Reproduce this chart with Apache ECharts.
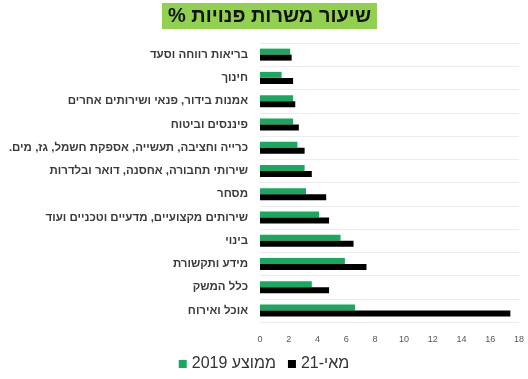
<!DOCTYPE html>
<html>
<head>
<meta charset="utf-8">
<script src="https://cdn.jsdelivr.net/npm/echarts@6/dist/echarts.min.js"></script>
<style>
  html, body { margin: 0; padding: 0; background: #ffffff; }
  #chart { width: 528px; height: 379px; }
</style>
</head>
<body>
<div id="chart"></div>
<script>
// Sectors, listed bottom to top along the category axis
// (a trailing RLM keeps final punctuation on the left of Hebrew text)
const categories = [
  'אוכל ואירוח',
  'כלל המשק',
  'מידע ותקשורת',
  'בינוי',
  'שירותים מקצועיים, מדעיים וטכניים ועוד',
  'מסחר',
  'שירותי תחבורה, אחסנה, דואר ובלדרות',
  'כרייה וחציבה, תעשייה, אספקת חשמל, גז, מים.\u200F',
  'פיננסים וביטוח',
  'אמנות בידור, פנאי ושירותים אחרים',
  'חינוך',
  'בריאות רווחה וסעד'
];

// Job vacancy rate (%), 2019 average
const avg2019 = [6.6, 3.6, 5.9, 5.6, 4.1, 3.2, 3.1, 2.6, 2.3, 2.3, 1.5, 2.1];
// Job vacancy rate (%), May 2021
const may21 = [17.4, 4.8, 7.4, 6.5, 4.8, 4.6, 3.6, 3.1, 2.7, 2.45, 2.3, 2.2];

const seriesNames = ['ממוצע 2019', 'מאי-21'];
const titleText = 'שיעור משרות פנויות %\u200F';
const xTicks = { min: 0, max: 18, interval: 2 };

const chart = echarts.init(document.getElementById('chart'), null, { renderer: 'canvas' });

chart.setOption({
  animation: false,
  backgroundColor: '#ffffff',
  title: {
    text: titleText,
    left: 162,
    top: 3,
    padding: [3, 6, 3, 6],
    backgroundColor: '#92d050',
    textStyle: {
      fontFamily: 'Liberation Sans',
      fontSize: 20,
      fontWeight: 'bold',
      color: '#111111'
    }
  },
  legend: {
    data: seriesNames,
    bottom: 2,
    left: 'center',
    itemWidth: 8,
    itemHeight: 8,
    itemGap: 12,
    icon: 'rect',
    textStyle: {
      fontFamily: 'Liberation Sans',
      fontSize: 16,
      color: '#333333'
    }
  },
  grid: {
    left: 260,
    right: 9,
    top: 43,
    bottom: 57,
    containLabel: false
  },
  xAxis: {
    type: 'value',
    min: xTicks.min,
    max: xTicks.max,
    interval: xTicks.interval,
    axisLine: { show: false },
    axisTick: { show: false },
    splitLine: { show: false },
    axisLabel: {
      margin: 13,
      fontFamily: 'Liberation Sans',
      fontSize: 9,
      color: '#555555'
    }
  },
  yAxis: {
    type: 'category',
    data: categories,
    axisLine: { show: false },
    axisTick: { show: false },
    splitLine: { show: true, lineStyle: { color: '#ececec', width: 1 } },
    axisLabel: {
      margin: 12,
      fontFamily: 'Liberation Sans',
      fontSize: 11.5,
      fontWeight: 'bold',
      color: '#3a3a3a'
    }
  },
  series: [
    {
      name: 'ממוצע 2019',
      type: 'bar',
      data: avg2019,
      barWidth: 6,
      barGap: '0%',
      itemStyle: { color: '#19a85e' }
    },
    {
      name: 'מאי-21',
      type: 'bar',
      data: may21,
      barWidth: 6,
      barGap: '0%',
      itemStyle: { color: '#000000' }
    }
  ]
});
</script>
</body>
</html>
